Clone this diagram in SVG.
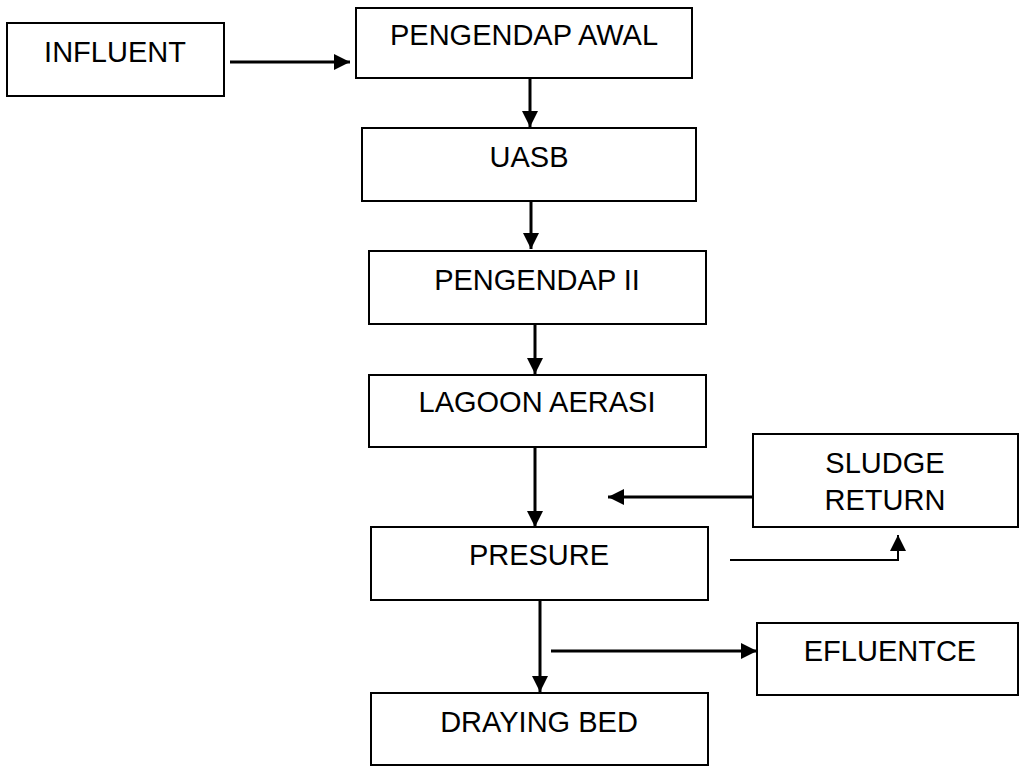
<svg xmlns="http://www.w3.org/2000/svg" width="1021" height="766" viewBox="0 0 1021 766">
<style>
.box{fill:#fff;stroke:#000;stroke-width:2}
.lbl{font-family:"Liberation Sans",Arial,sans-serif;font-size:29px;fill:#000;text-anchor:middle}
.c{fill:none;stroke:#000;stroke-width:3}
.t{fill:none;stroke:#000;stroke-width:2}
</style>
<defs>
<marker id="ah" viewBox="0 0 10 10" refX="10" refY="5" markerWidth="16" markerHeight="16" markerUnits="userSpaceOnUse" orient="auto">
<path d="M0,0 L10,5 L0,10 Z" fill="#000"/>
</marker>
</defs>
<rect width="1021" height="766" fill="#fff"/>
<g id="influent"><rect class="box" x="7" y="23" width="217" height="73"/><text class="lbl" x="115" y="62">INFLUENT</text></g>
<g id="pengendap-awal"><rect class="box" x="356" y="8" width="336" height="70"/><text class="lbl" x="524" y="45">PENGENDAP AWAL</text></g>
<g id="uasb"><rect class="box" x="362" y="128" width="334" height="73"/><text class="lbl" x="529" y="167">UASB</text></g>
<g id="pengendap-ii"><rect class="box" x="369" y="251" width="337" height="73"/><text class="lbl" x="537" y="290">PENGENDAP II</text></g>
<g id="lagoon-aerasi"><rect class="box" x="369" y="375" width="337" height="72"/><text class="lbl" x="537" y="412">LAGOON AERASI</text></g>
<g id="presure"><rect class="box" x="371" y="527" width="337" height="73"/><text class="lbl" x="539" y="565">PRESURE</text></g>
<g id="draying-bed"><rect class="box" x="371" y="693" width="337" height="72"/><text class="lbl" x="539" y="732">DRAYING BED</text></g>
<g id="sludge-return"><rect class="box" x="753" y="434" width="265" height="93"/><text class="lbl" x="885" y="473">SLUDGE</text><text class="lbl" x="885" y="510">RETURN</text></g>
<g id="efluentce"><rect class="box" x="757" y="623" width="261" height="72"/><text class="lbl" x="890" y="661">EFLUENTCE</text></g>
<g id="connectors">
<line class="c" x1="230" y1="62" x2="350" y2="62" marker-end="url(#ah)"/>
<line class="c" x1="530" y1="78" x2="530" y2="127" marker-end="url(#ah)"/>
<line class="c" x1="531" y1="201" x2="531" y2="249" marker-end="url(#ah)"/>
<line class="c" x1="535" y1="324" x2="535" y2="374" marker-end="url(#ah)"/>
<line class="c" x1="535" y1="447" x2="535" y2="527" marker-end="url(#ah)"/>
<line class="c" x1="753" y1="497" x2="608" y2="497" marker-end="url(#ah)"/>
<polyline class="t" points="730,560 898,560 898,535" marker-end="url(#ah)"/>
<line class="c" x1="540" y1="600" x2="540" y2="692" marker-end="url(#ah)"/>
<line class="c" x1="551" y1="651" x2="757" y2="651" marker-end="url(#ah)"/>
</g>
</svg>
